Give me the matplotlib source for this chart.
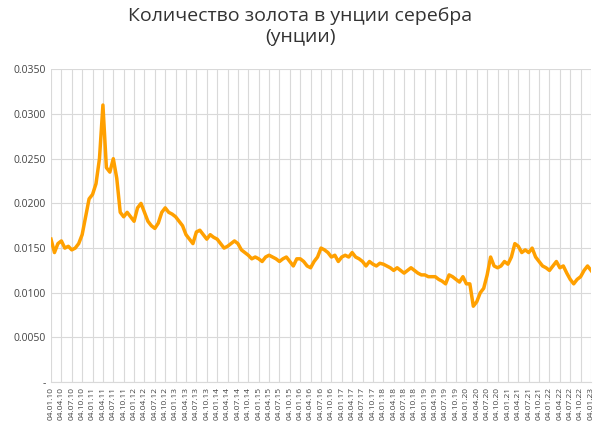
import matplotlib.pyplot as plt
import matplotlib.ticker as mticker

# monthly values, Jan 2010 .. Apr 2023
years = list(range(2010, 2024))
values = [
    0.0160, 0.0145, 0.0155, 0.0158, 0.0150, 0.0152, 0.0148, 0.0150, 0.0155, 0.0165, 0.0185, 0.0205,
    0.0210, 0.0222, 0.0250, 0.0310, 0.0240, 0.0235, 0.0250, 0.0228, 0.0190, 0.0185, 0.0190, 0.0185,
    0.0180, 0.0195, 0.0200, 0.0190, 0.0180, 0.0175, 0.0172, 0.0178, 0.0190, 0.0195, 0.0190, 0.0188,
    0.0185, 0.0180, 0.0175, 0.0165, 0.0160, 0.0155, 0.0168, 0.0170, 0.0165, 0.0160, 0.0165, 0.0162,
    0.0160, 0.0155, 0.0150, 0.0152, 0.0155, 0.0158, 0.0155, 0.0148, 0.0145, 0.0142, 0.0138, 0.0140,
    0.0138, 0.0135, 0.0140, 0.0142, 0.0140, 0.0138, 0.0135, 0.0138, 0.0140, 0.0135, 0.0130, 0.0138,
    0.0138, 0.0135, 0.0130, 0.0128, 0.0135, 0.0140, 0.0150, 0.0148, 0.0145, 0.0140, 0.0142, 0.0135,
    0.0140, 0.0142, 0.0140, 0.0145, 0.0140, 0.0138, 0.0135, 0.0130, 0.0135, 0.0132, 0.0130, 0.0133,
    0.0132, 0.0130, 0.0128, 0.0125, 0.0128, 0.0125, 0.0122, 0.0125, 0.0128, 0.0125, 0.0122, 0.0120,
    0.0120, 0.0118, 0.0118, 0.0118, 0.0115, 0.0113, 0.0110, 0.0120, 0.0118, 0.0115, 0.0112, 0.0118,
    0.0110, 0.0110, 0.0085, 0.0090, 0.0100, 0.0105, 0.0120, 0.0140, 0.0130, 0.0128, 0.0130, 0.0135,
    0.0132, 0.0140, 0.0155, 0.0152, 0.0145, 0.0148, 0.0145, 0.0150, 0.0140, 0.0135, 0.0130, 0.0128,
    0.0125, 0.0130, 0.0135, 0.0128, 0.0130, 0.0122, 0.0115, 0.0110, 0.0115, 0.0118, 0.0125, 0.0130,
    0.0125, 0.0120, 0.0115, 0.0110,
]
tick_labels = [f"04.{m:02d}.{y % 100:02d}" for y in years for m in (1, 4, 7, 10)][:53]

plt.rcParams['font.family'] = ['Open Sans', 'DejaVu Sans']
fig, ax = plt.subplots(figsize=(6.0, 4.47), dpi=100)
fig.subplots_adjust(left=0.085, right=0.985, top=0.845, bottom=0.145)

ax.plot(range(len(values)), values, color='#FFA000', linewidth=2.5)
ax.set_xlim(0, 156)
ax.set_ylim(0, 0.035)
ax.yaxis.set_major_locator(mticker.MultipleLocator(0.005))
ax.yaxis.set_major_formatter(mticker.FuncFormatter(lambda v, p: '-' if abs(v) < 1e-9 else f"{v:.4f}"))
ax.set_xticks(range(0, 3 * len(tick_labels), 3))
ax.set_xticklabels(tick_labels, rotation=90, fontsize=6, color='#444444')
ax.tick_params(axis='y', labelsize=7.5, colors='#444444', length=0)
ax.tick_params(axis='x', length=0)
ax.grid(True, color='#d9d9d9', linewidth=0.8)
for s in ax.spines.values():
    s.set_visible(False)
ax.spines['bottom'].set_visible(True)
ax.spines['bottom'].set_color('#d9d9d9')
fig.suptitle("Количество золота в унции серебра\n(унции)", fontsize=14, color='#333333', y=0.985)
fig.savefig('out.png')
